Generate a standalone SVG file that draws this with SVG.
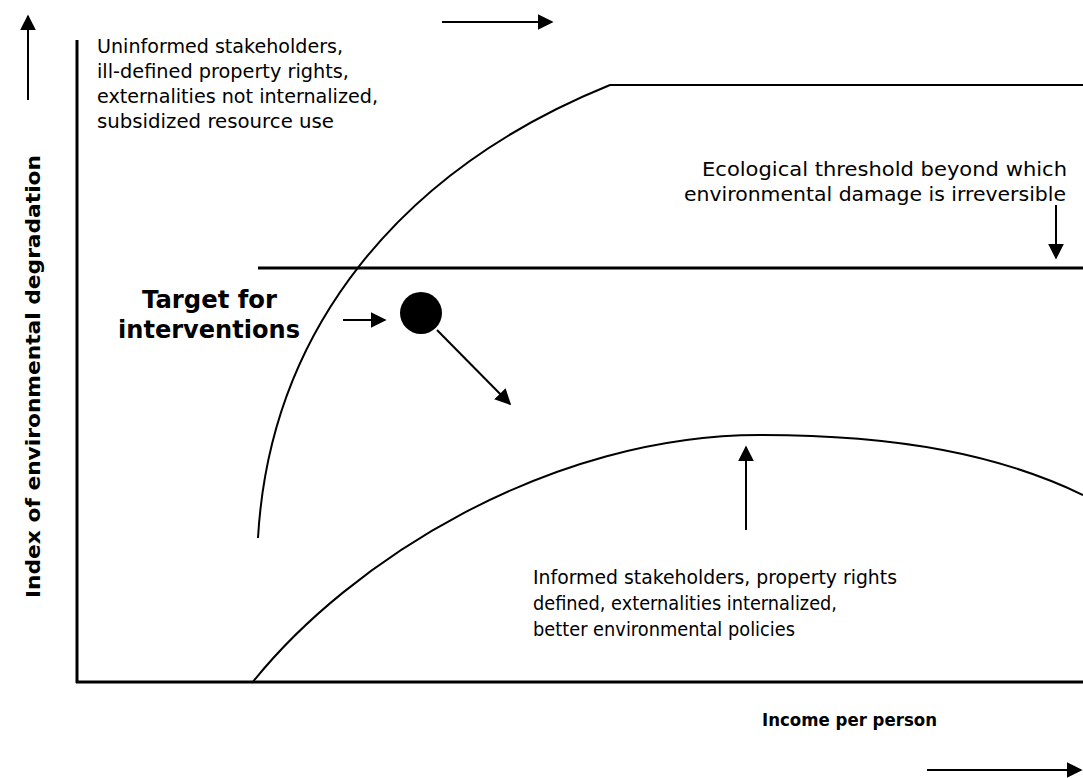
<svg xmlns="http://www.w3.org/2000/svg" width="1083" height="778" viewBox="0 0 1083 778">
<style>
.t{font-family:"DejaVu Sans",Verdana,sans-serif;font-size:19px;fill:#000}
.b{font-family:"DejaVu Sans",Verdana,sans-serif;font-weight:bold;fill:#000}
.ln{stroke:#000;stroke-width:2;fill:none}
.ax{stroke:#000;stroke-width:3;fill:none}
</style>
<defs>
<marker id="ahs" viewBox="0 0 10 10" refX="9" refY="5" markerWidth="8" markerHeight="8" orient="auto">
<path d="M0,0 L10,5 L0,10 Z" fill="#000"/>
</marker>
</defs>
<g id="axes">
<line class="ax" x1="77" y1="40" x2="77" y2="683"/>
<line class="ax" x1="76" y1="682" x2="1083" y2="682"/>
</g>
<g id="curves">
<path id="upper-curve" class="ln" d="M258,538 C270,330 400,170 610,85 L1083,85"/>
<path id="lower-curve" class="ln" d="M252,683 C350,560 550,435 760,435 C900,435 1000,455 1083,495"/>
<line id="threshold" class="ax" x1="258" y1="268" x2="1083" y2="268"/>
</g>
<g id="connectors">
<line class="ln" x1="28" y1="100" x2="28" y2="16" marker-end="url(#ahs)"/>
<line class="ln" x1="442" y1="22" x2="552" y2="22" marker-end="url(#ahs)"/>
<line class="ln" x1="1056" y1="205" x2="1056" y2="258" marker-end="url(#ahs)"/>
<line class="ln" x1="343" y1="320" x2="385" y2="320" marker-end="url(#ahs)"/>
<line class="ln" x1="437" y1="330" x2="510" y2="404" marker-end="url(#ahs)"/>
<line class="ln" x1="746" y1="530" x2="746" y2="447" marker-end="url(#ahs)"/>
<line class="ln" x1="927" y1="770" x2="1081" y2="770" marker-end="url(#ahs)"/>
</g>
<g id="target">
<circle cx="421" cy="313" r="21" fill="#000"/>
<text class="b" font-size="24" x="142" y="308" textLength="135" lengthAdjust="spacingAndGlyphs">Target for</text>
<text class="b" font-size="24" x="118" y="338" textLength="182" lengthAdjust="spacingAndGlyphs">interventions</text>
</g>
<g id="uninformed">
<text class="t" x="97" y="53" textLength="246" lengthAdjust="spacingAndGlyphs">Uninformed stakeholders,</text>
<text class="t" x="97" y="78" textLength="252" lengthAdjust="spacingAndGlyphs">ill-defined property rights,</text>
<text class="t" x="97" y="103" textLength="281" lengthAdjust="spacingAndGlyphs">externalities not internalized,</text>
<text class="t" x="97" y="128" textLength="237" lengthAdjust="spacingAndGlyphs">subsidized resource use</text>
</g>
<g id="threshold-label">
<text class="t" x="702" y="176" textLength="365" lengthAdjust="spacingAndGlyphs">Ecological threshold beyond which</text>
<text class="t" x="684" y="201" textLength="382" lengthAdjust="spacingAndGlyphs">environmental damage is irreversible</text>
</g>
<g id="informed">
<text class="t" x="533" y="584" textLength="364" lengthAdjust="spacingAndGlyphs">Informed stakeholders, property rights</text>
<text class="t" x="533" y="610" textLength="304" lengthAdjust="spacingAndGlyphs">defined, externalities internalized,</text>
<text class="t" x="533" y="636" textLength="262" lengthAdjust="spacingAndGlyphs">better environmental policies</text>
</g>
<g id="axis-labels">
<text class="b" font-size="19" transform="translate(40,598) rotate(-90)" textLength="443" lengthAdjust="spacingAndGlyphs">Index of environmental degradation</text>
<text class="b" font-size="17" x="762" y="726" textLength="175" lengthAdjust="spacingAndGlyphs">Income per person</text>
</g>
</svg>
